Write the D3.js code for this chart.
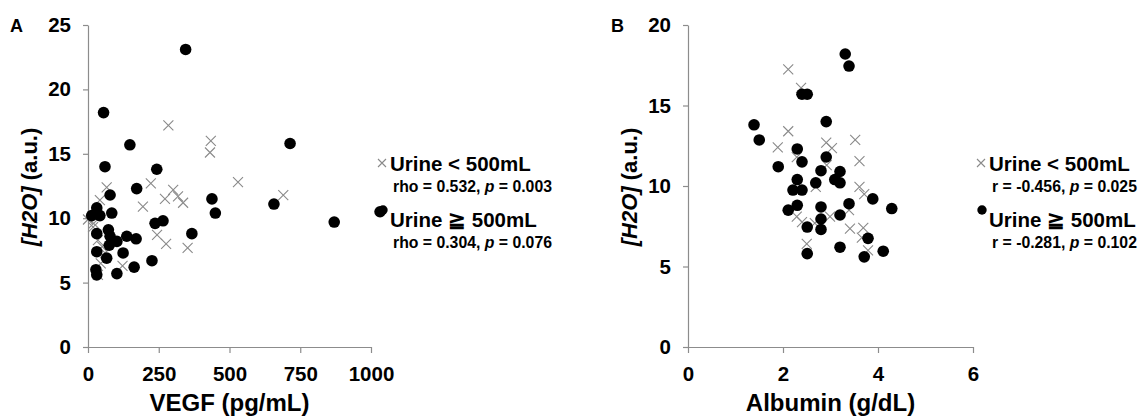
<!DOCTYPE html>
<html>
<head>
<meta charset="utf-8">
<script src="https://cdn.jsdelivr.net/npm/d3@7"></script>
<style>
  body { margin: 0; background: #fff; }
  svg { display: block; font-family: "Liberation Sans", Arial, sans-serif; font-weight: bold; }
</style>
</head>
<body>
<svg id="chart" width="1141" height="417"></svg>
<script>
// ============= Data =============

// panel A: VEGF (pg/mL) vs [H2O] (a.u.)
const vegfLow = [[284,17.2],[434,16.0],[431,15.1],[530,12.8],[222,12.7],[301,12.2],[318,11.7],[336,11.2],
  [272,11.5],[690,11.8],[66,12.4],[42,11.4],[194,10.9],[0,9.9],[18,9.3],[35,8.3],[50,7.8],[60,7.3],
  [244,8.7],[276,8.0],[352,7.7],[122,6.3],[45,6.5],[35,5.6],[20,9.6]];
const vegfHigh = [[345,23.1],[55,18.2],[148,15.7],[714,15.8],[60,14.0],[243,13.8],[78,11.8],[172,12.3],
  [31,10.8],[13,10.2],[42,10.2],[84,10.4],[237,9.6],[265,9.8],[72,9.1],[31,8.8],[78,8.6],[102,8.2],
  [75,7.9],[137,8.6],[170,8.4],[367,8.8],[31,7.4],[66,6.9],[124,7.3],[226,6.7],[163,6.2],[28,6.0],
  [31,5.6],[102,5.7],[438,11.5],[450,10.4],[657,11.1],[870,9.7],[1032,10.5]];

// panel B: Albumin (g/dL) vs [H2O] (a.u.)
const albLow = [[2.11,17.25],[2.38,16.1],[2.11,13.4],[1.89,12.4],[2.91,12.7],[3.03,12.35],[3.52,12.86],
  [3.61,11.55],[2.29,11.8],[2.92,11.3],[2.69,9.95],[3.61,9.95],[3.71,9.5],[2.29,8.1],[2.4,7.75],
  [2.67,7.7],[2.99,8.1],[3.41,7.35],[3.69,7.4],[3.66,6.8],[3.79,6.0],[2.5,6.4],[3.39,8.5]];
const albHigh = [[3.31,18.2],[3.39,17.45],[2.40,15.7],[2.51,15.7],[1.39,13.8],[1.50,12.86],[2.91,14.0],
  [2.30,12.3],[1.90,11.2],[2.40,11.5],[2.91,11.8],[2.80,10.95],[2.30,10.4],[2.69,10.2],[3.20,10.9],
  [3.09,10.4],[3.20,10.2],[2.21,9.75],[2.40,9.75],[3.89,9.2],[2.11,8.5],[2.30,8.8],[2.51,7.45],
  [2.51,5.8],[2.80,8.7],[2.80,7.95],[2.80,7.3],[3.20,8.2],[3.39,8.9],[3.20,6.2],[3.79,6.75],
  [3.71,5.6],[4.11,5.95],[4.29,8.6]];

const vegfTicks = [0, 250, 500, 750, 1000];
const albTicks = [0, 2, 4, 6];
const h2oTicksA = [0, 5, 10, 15, 20, 25];
const h2oTicksB = [0, 5, 10, 15, 20];

const legendLabels = ["Urine < 500mL", "Urine \u2267 500mL"];
const statsA = [["rho = 0.532, ", "p", " = 0.003"], ["rho = 0.304, ", "p", " = 0.076"]];
const statsB = [["r = -0.456, ", "p", " = 0.025"], ["r = -0.281, ", "p", " = 0.102"]];

// ============= Layout =============
const svg = d3.select("#chart");
const axisColor = "#8c8c8c";
const crossColor = "#8a8a8a";

function crossPath(s) {
  return `M${-s},${-s}L${s},${s}M${-s},${s}L${s},${-s}`;
}

function drawPanel(cfg) {
  const x = d3.scaleLinear().domain(cfg.xDomain).range(cfg.xRange);
  const y = d3.scaleLinear().domain(cfg.yDomain).range([347, 25]);
  const g = svg.append("g");

  // axes
  const xAxis = g.append("g")
    .attr("transform", `translate(0,${y(0)})`)
    .call(d3.axisBottom(x).tickValues(cfg.xTicks).tickFormat(d3.format("d"))
      .tickSize(6).tickSizeOuter(0).tickPadding(13));
  const yAxis = g.append("g")
    .attr("transform", `translate(${x(0)},0)`)
    .call(d3.axisLeft(y).tickValues(cfg.yTicks).tickFormat(d3.format("d"))
      .tickSize(5).tickSizeOuter(0).tickPadding(12));
  [xAxis, yAxis].forEach(a => {
    a.select(".domain").attr("stroke", axisColor).attr("stroke-width", 1.2);
    a.selectAll(".tick line").attr("stroke", axisColor).attr("stroke-width", 1.2);
    a.selectAll(".tick text")
      .attr("fill", "#000")
      .style("font-size", "20.5px")
      .style("font-family", "'Liberation Sans', Arial, sans-serif")
      .style("font-weight", "bold");
    a.attr("font-family", null).attr("font-size", null);
  });

  // crosses (urine < 500) then dots (urine >= 500)
  g.selectAll("path.cross")
    .data(cfg.low)
    .join("path")
    .attr("class", "cross")
    .attr("transform", d => `translate(${x(d[0])},${y(d[1])})`)
    .attr("d", crossPath(5))
    .attr("stroke", crossColor)
    .attr("stroke-width", 1.1)
    .attr("fill", "none");

  g.selectAll("circle.dot")
    .data(cfg.high)
    .join("circle")
    .attr("class", "dot")
    .attr("cx", d => x(d[0]))
    .attr("cy", d => y(d[1]))
    .attr("r", 5.8)
    .attr("fill", "#000");

  // panel letter
  g.append("text")
    .attr("x", cfg.letterX)
    .attr("y", 32)
    .style("font-size", "18px")
    .text(cfg.letter);

  // x title
  g.append("text")
    .attr("x", (cfg.xRange[0] + cfg.xRange[1]) / 2)
    .attr("y", 411)
    .attr("text-anchor", "middle")
    .style("font-size", "24px")
    .text(cfg.xTitle);

  // y title
  const yt = g.append("text")
    .attr("transform", `translate(${cfg.yTitleX},187) rotate(-90)`)
    .attr("text-anchor", "middle")
    .style("font-size", "22px");
  yt.append("tspan").style("font-style", "italic").text("[H2O]");
  yt.append("tspan").text(" (a.u.)");

  // legend
  const lx = cfg.legendX;
  g.append("path")
    .attr("transform", `translate(${lx},163)`)
    .attr("d", crossPath(4))
    .attr("stroke", crossColor)
    .attr("stroke-width", 1.1)
    .attr("fill", "none");
  g.append("circle")
    .attr("cx", lx + 1)
    .attr("cy", 210)
    .attr("r", 4.7)
    .attr("fill", "#000");

  const labelY = [171, 227];
  const statY = [192, 248];
  legendLabels.forEach((lab, i) => {
    g.append("text")
      .attr("x", lx + 8)
      .attr("y", labelY[i])
      .style("font-size", "20.5px")
      .text(lab);
    const st = g.append("text")
      .attr("x", lx + 11)
      .attr("y", statY[i])
      .style("font-size", "15.8px");
    st.append("tspan").text(cfg.stats[i][0]);
    st.append("tspan").style("font-style", "italic").text(cfg.stats[i][1]);
    st.append("tspan").text(cfg.stats[i][2]);
  });
}

drawPanel({
  letter: "A", letterX: 10,
  xDomain: [0, 1000], xRange: [88, 371], xTicks: vegfTicks,
  yDomain: [0, 25], yTicks: h2oTicksA,
  low: vegfLow, high: vegfHigh,
  xTitle: "VEGF (pg/mL)", yTitleX: 37,
  legendX: 382, stats: statsA
});

drawPanel({
  letter: "B", letterX: 611,
  xDomain: [0, 6], xRange: [688, 973], xTicks: albTicks,
  yDomain: [0, 20], yTicks: h2oTicksB,
  low: albLow, high: albHigh,
  xTitle: "Albumin (g/dL)", yTitleX: 637,
  legendX: 981, stats: statsB
});
</script>
</body>
</html>
